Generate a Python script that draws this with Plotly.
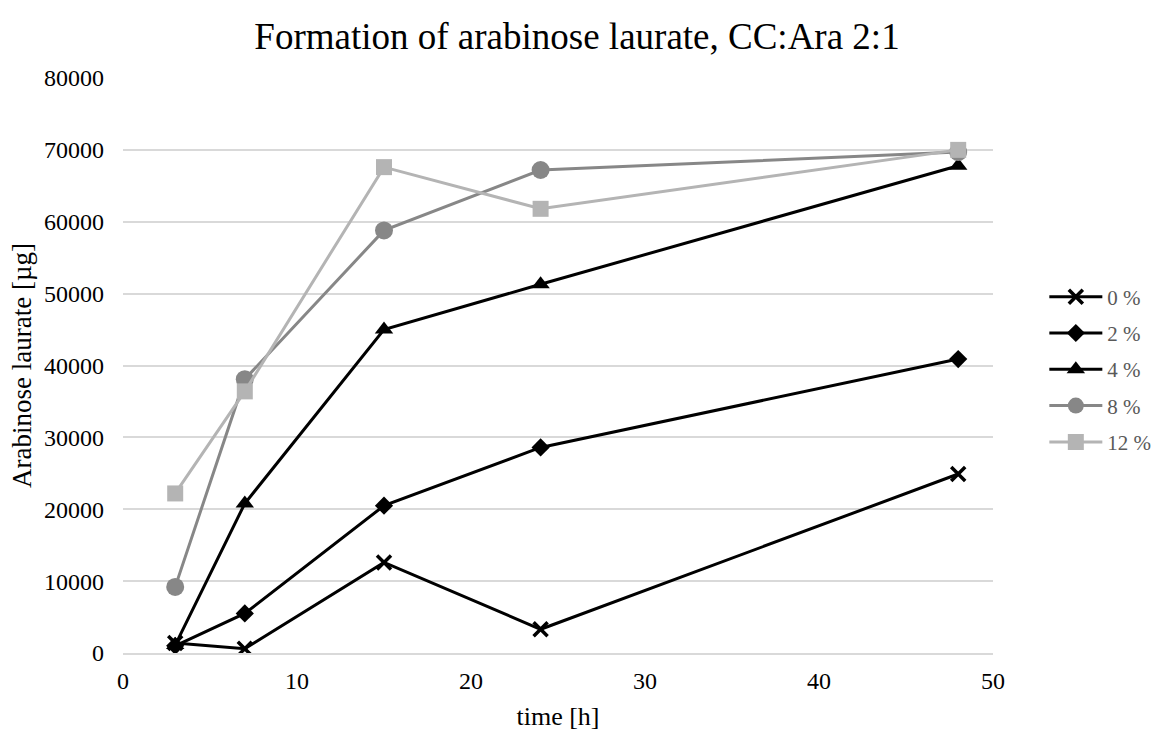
import plotly.graph_objects as go

time_h = [3, 7, 15, 24, 48]
series_names = ["0 %", "2 %", "4 %", "8 %", "12 %"]
vals_0 = [1400, 600, 12600, 3300, 24900]
vals_2 = [1000, 5500, 20500, 28600, 40900]
vals_4 = [1100, 20800, 45000, 51300, 67800]
vals_8 = [9200, 38100, 58800, 67200, 69700]
vals_12 = [22200, 36400, 67600, 61800, 70000]

all_vals = [vals_0, vals_2, vals_4, vals_8, vals_12]
colors = ["#000000", "#000000", "#000000", "#878787", "#b4b4b4"]
symbols = ["x-thin", "diamond", "triangle-up", "circle", "square"]
msizes = [14, 14, 16, 18, 16]

fig = go.Figure()
for i, (name, v) in enumerate(zip(series_names, all_vals)):
    marker = dict(symbol=symbols[i], size=msizes[i], color=colors[i])
    if symbols[i] == "x-thin":
        marker["line"] = dict(width=3.5, color=colors[i])
    fig.add_trace(go.Scatter(
        x=time_h, y=v, name=name, mode="lines+markers",
        line=dict(color=colors[i], width=3),
        marker=marker, legendgroup=name,
    ))

fig.update_layout(
    width=1154, height=731,
    paper_bgcolor="white", plot_bgcolor="white",
    margin=dict(l=123, r=161, t=78, b=78, autoexpand=False),
    font=dict(family="Liberation Serif, Times New Roman, serif", size=24, color="#000000"),
    title=dict(text="Formation of arabinose laurate, CC:Ara 2:1", x=0.5, xanchor="center",
               y=0.951, yanchor="middle", font=dict(size=37, color="#000000")),
    legend=dict(x=1.059, xanchor="left", y=0.493, yanchor="middle",
                font=dict(size=21, color="#595959"), tracegroupgap=6,
                itemwidth=53, bgcolor="rgba(0,0,0,0)"),
    showlegend=True,
)
fig.update_xaxes(range=[0, 50], dtick=10, showgrid=False, zeroline=False,
                 showline=True, linecolor="#d9d9d9", linewidth=1.5, ticks="",
                 ticklabelstandoff=5, automargin=False,
                 title=dict(text="time [h]", font=dict(size=26), standoff=17),
                 tickfont=dict(size=24))
fig.update_yaxes(range=[0, 80000], dtick=10000, showgrid=True, gridcolor="#d9d9d9",
                 gridwidth=1.5, zeroline=False, ticks="", tickformat="d",
                 ticklabelstandoff=18, automargin=False,
                 title=dict(text="Arabinose laurate [µg]", font=dict(size=27), standoff=4),
                 tickfont=dict(size=24))

fig.write_html("out.html")
